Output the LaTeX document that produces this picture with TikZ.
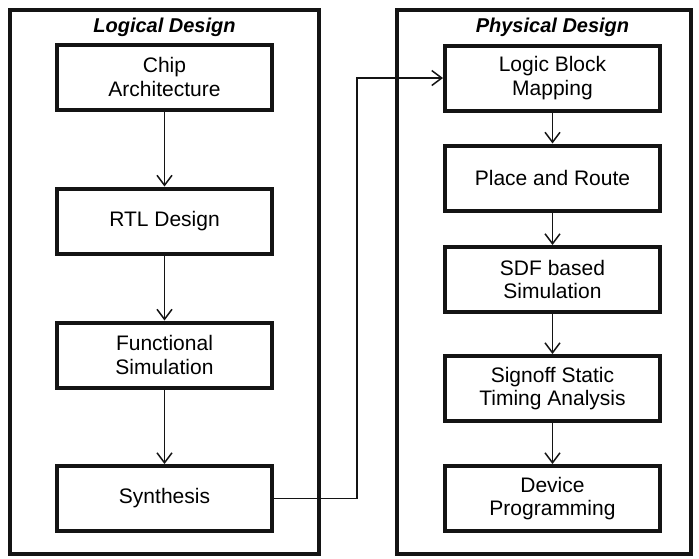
\documentclass[tikz,border=0pt]{standalone}
\usepackage{fontspec}
\setmainfont{Liberation Sans}
\usetikzlibrary{arrows.meta}
\begin{document}
\begin{tikzpicture}[x=1pt,y=-1pt,
  frame/.style={draw=black!92,line width=4pt},
  stepbox/.style={draw=black!92,line width=4pt,minimum width=215pt,minimum height=65pt,
    align=center,inner sep=0pt,font=\fontsize{21}{23.5}\selectfont},
  title/.style={font=\fontsize{20}{22}\selectfont\bfseries\itshape,inner sep=0pt},
  arr/.style={draw=black!92,line width=1.5pt,-{Straight Barb[length=10pt,width=15pt,line width=1.5pt]}}]
\useasboundingbox (0,0) rectangle (699,558);
\fill[white] (0,0) rectangle (699,558);
% outer frames
\draw[frame] (10,10) rectangle (319,554);
\draw[frame] (397,10) rectangle (691,554);
\node[title] (tl) at (164.5,27) {Logical Design};
\node[title] (tp) at (552.5,27) {Physical Design};
% left column
\node[stepbox] (chip) at (164.5,77) {Chip\\Architecture};
\node[stepbox] (rtl) at (164.5,221) {RTL Design};
\node[stepbox] (func) at (164.5,355) {Functional\\Simulation};
\node[stepbox] (syn) at (164.5,498.5) {Synthesis};
% right column
\node[stepbox] (lbm) at (552.5,78) {Logic Block\\Mapping};
\node[stepbox] (pr) at (552.5,178) {Place and Route};
\node[stepbox] (sdf) at (552.5,279.5) {SDF based\\Simulation};
\node[stepbox] (sta) at (552.5,388.5) {Signoff Static\\Timing Analysis};
\node[stepbox] (dev) at (552.5,498.5) {Device\\Programming};
% connectors
\draw[arr] (chip) -- (rtl);
\draw[arr] (rtl) -- (func);
\draw[arr] (func) -- (syn);
\draw[arr] (lbm) -- (pr);
\draw[arr] (pr) -- (sdf);
\draw[arr] (sdf) -- (sta);
\draw[arr] (sta) -- (dev);
\coordinate (bend) at (357,498.5);
\draw[arr] (syn.east) -- (bend) |- (lbm.west);
\end{tikzpicture}
\end{document}
